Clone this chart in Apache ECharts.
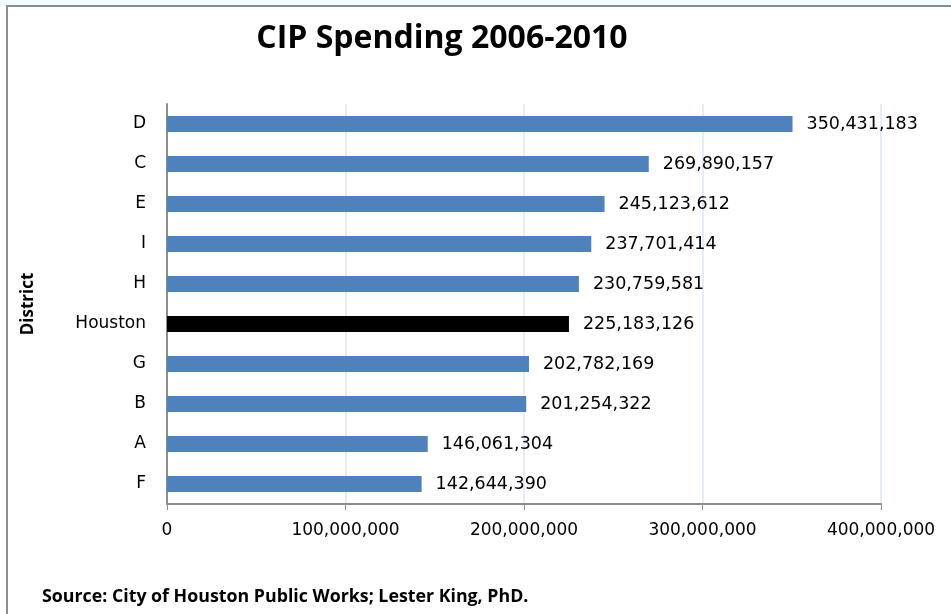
<!DOCTYPE html>
<html>
<head>
<meta charset="utf-8">
<script src="https://cdn.jsdelivr.net/npm/echarts@6/dist/echarts.min.js"></script>
<style>
html,body{margin:0;padding:0;background:#fff;}
#chart{width:951px;height:614px;}
</style>
</head>
<body>
<div id="chart"></div>
<script>
// Data (top-to-bottom order as shown)
var categories = ['D', 'C', 'E', 'I', 'H', 'Houston', 'G', 'B', 'A', 'F'];
var values = [350431183, 269890157, 245123612, 237701414, 230759581, 225183126, 202782169, 201254322, 146061304, 142644390];
var highlight = 'Houston';
var titleText = 'CIP Spending 2006-2010';
var axisName = 'District';
var sourceText = 'Source: City of Houston Public Works; Lester King, PhD.';

function fmt(n) {
  return String(n).replace(/\B(?=(\d{3})+(?!\d))/g, ',');
}

var cats = categories.slice().reverse();
var vals = values.slice().reverse();
var data = vals.map(function (v, i) {
  return {
    value: v,
    itemStyle: { color: cats[i] === highlight ? '#000000' : '#4F81BD' }
  };
});

var chart = echarts.init(document.getElementById('chart'), null, { renderer: 'canvas' });
chart.setOption({
  animation: false,
  backgroundColor: '#ffffff',
  title: {
    text: titleText,
    left: 437,
    textAlign: 'center',
    top: 18,
    textStyle: { fontFamily: 'Open Sans', fontWeight: 'bold', fontSize: 32, color: '#000' }
  },
  grid: { left: 167, right: 70, top: 104, bottom: 110, containLabel: false },
  xAxis: {
    type: 'value',
    min: 0,
    max: 400000000,
    interval: 100000000,
    axisLine: { show: true, lineStyle: { color: '#8C8C8C', width: 2 } },
    axisTick: { show: true, length: 6, lineStyle: { color: '#8C8C8C', width: 1 } },
    splitLine: { show: true, lineStyle: { color: '#DCE6F2', width: 1.5 } },
    axisLabel: {
      margin: 18,
      fontFamily: 'DejaVu Sans',
      fontSize: 17,
      color: '#000',
      formatter: function (v) { return fmt(v); }
    }
  },
  yAxis: {
    type: 'category',
    data: cats,
    name: axisName,
    nameLocation: 'middle',
    nameRotate: 90,
    nameGap: 130,
    nameTextStyle: { fontFamily: 'Open Sans', fontWeight: 'bold', fontSize: 17, color: '#000' },
    axisLine: { show: true, lineStyle: { color: '#8C8C8C', width: 2 } },
    axisTick: { show: false },
    splitLine: { show: false },
    axisLabel: { margin: 21, fontFamily: 'DejaVu Sans', fontSize: 17, color: '#000' }
  },
  series: [{
    type: 'bar',
    data: data,
    barWidth: 16,
    label: {
      show: true,
      position: 'right',
      distance: 14,
      fontFamily: 'DejaVu Sans',
      fontSize: 17.5,
      color: '#000',
      formatter: function (p) { return fmt(p.value); }
    }
  }],
  graphic: [
    { type: 'rect', shape: { x: 0, y: 0, width: 951, height: 5 }, style: { fill: '#F4FDFE' }, silent: true },
    { type: 'line', shape: { x1: 6, y1: 6, x2: 951, y2: 6 }, style: { stroke: '#8C8C8C', lineWidth: 2 }, silent: true },
    { type: 'line', shape: { x1: 7, y1: 5, x2: 7, y2: 614 }, style: { stroke: '#8C8C8C', lineWidth: 2 }, silent: true },
    {
      type: 'text', left: 42, top: 588,
      style: { text: sourceText, fontFamily: 'Open Sans', fontWeight: 'bold', fontSize: 17.8, fill: '#000' }
    }
  ]
});
</script>
</body>
</html>
